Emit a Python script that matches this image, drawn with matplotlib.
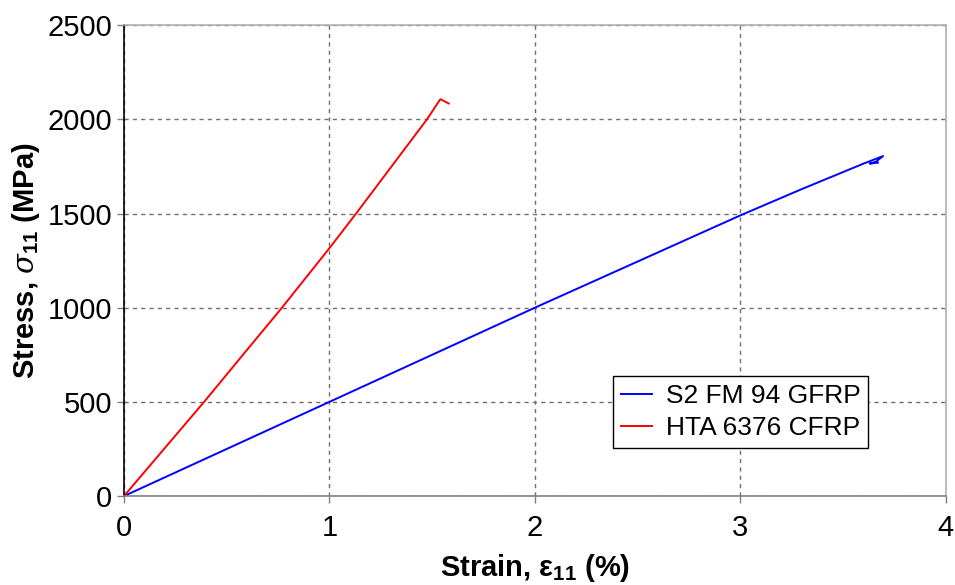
import matplotlib
matplotlib.use('Agg')
import matplotlib.pyplot as plt

plt.rcParams['font.family'] = ['Liberation Sans', 'DejaVu Sans']
plt.rcParams['mathtext.fontset'] = 'custom'
plt.rcParams['mathtext.rm'] = 'Liberation Sans'
plt.rcParams['mathtext.it'] = 'DejaVu Serif:italic'
plt.rcParams['mathtext.bf'] = 'Liberation Sans:bold'

# ── data ─────────────────────────────────────────────────────────────────────
gfrp_strain = [0.0, 0.5, 1.0, 1.5, 2.0, 2.5, 3.0, 3.3, 3.6, 3.695, 3.66, 3.63, 3.67]
gfrp_stress = [0, 250, 500, 750, 1000, 1245, 1490, 1630, 1765, 1805, 1775, 1765, 1770]

cfrp_strain = [0.0, 0.39, 0.611, 0.769, 1.0, 1.13, 1.475, 1.54, 1.581]
cfrp_stress = [0, 500, 792, 1000, 1316, 1500, 2000, 2107, 2084]

x_ticks = [0, 1, 2, 3, 4]
y_ticks = [0, 500, 1000, 1500, 2000, 2500]

# ── figure ───────────────────────────────────────────────────────────────────
fig = plt.figure(figsize=(9.55, 5.85), dpi=100)
ax = fig.add_axes([0.1298, 0.152, 0.8605, 0.805])

ax.plot(gfrp_strain, gfrp_stress, color='#0000ff', lw=1.4, label='S2 FM 94 GFRP')
ax.plot(cfrp_strain, cfrp_stress, color='#ff0000', lw=1.4, label='HTA 6376 CFRP')

ax.set_xlim(0, 4)
ax.set_ylim(0, 2500)
ax.set_xticks(x_ticks)
ax.set_yticks(y_ticks)
ax.tick_params(labelsize=21, length=5, width=1, colors='#808080', labelcolor='black')
ax.tick_params(axis='x', pad=8)

ax.grid(True, color='#707070', ls=(0, (3, 3)), lw=1)
ax.set_axisbelow(True)
for side in ['top', 'right']:
    ax.spines[side].set_color('#b0b0b0')
ax.spines['bottom'].set_color('#808080')
ax.spines['left'].set_color('black')
for sp in ax.spines.values():
    sp.set_linewidth(1.2)

ax.set_xlabel(r'Strain, ε$_{\mathbf{11}}$ (%)', fontsize=21, fontweight='bold', labelpad=7)
ax.set_ylabel(r'Stress, $\sigma_{\mathbf{11}}$ (MPa)', fontsize=21, fontweight='bold', labelpad=4)

leg = ax.legend(loc='lower left', bbox_to_anchor=(0.595, 0.102), borderaxespad=0,
                fontsize=19, frameon=True, fancybox=False, edgecolor='black',
                framealpha=1, handlelength=1.2, handletextpad=0.5, borderpad=0.3,
                labelspacing=0.3)
leg.get_frame().set_linewidth(1.0)

fig.savefig('out.png', dpi=100)
